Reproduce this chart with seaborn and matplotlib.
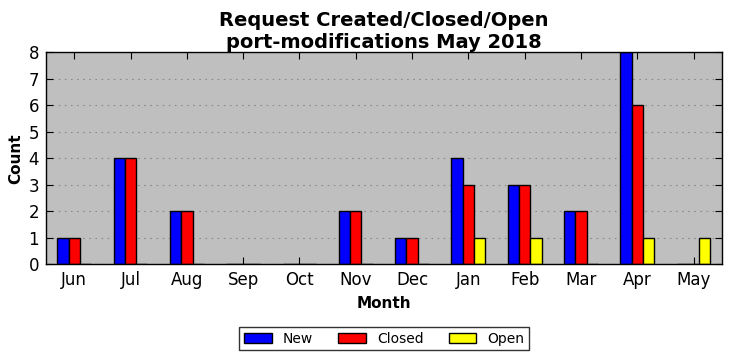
import matplotlib
matplotlib.use("Agg")
import matplotlib.pyplot as plt
import pandas as pd
import seaborn as sns

months = ["Jun", "Jul", "Aug", "Sep", "Oct", "Nov", "Dec", "Jan", "Feb", "Mar", "Apr", "May"]
new_counts = [1, 4, 2, 0, 0, 2, 1, 4, 3, 2, 8, 0]
closed_counts = [1, 4, 2, 0, 0, 2, 1, 3, 3, 2, 6, 0]
open_counts = [0, 0, 0, 0, 0, 0, 0, 1, 1, 0, 1, 1]

df = pd.DataFrame({"Month": months, "New": new_counts, "Closed": closed_counts, "Open": open_counts})
long_df = df.melt(id_vars="Month", var_name="Status", value_name="Count")

sns.set_style("ticks")
plt.rcParams["font.family"] = ["DejaVu Sans"]
plt.rcParams["text.color"] = "black"
plt.rcParams["axes.labelcolor"] = "black"
plt.rcParams["xtick.color"] = "black"
plt.rcParams["ytick.color"] = "black"

fig, ax = plt.subplots(figsize=(7.32, 3.61), dpi=100)
sns.barplot(
    data=long_df,
    x="Month",
    y="Count",
    hue="Status",
    order=months,
    hue_order=["New", "Closed", "Open"],
    palette={"New": "#0000ff", "Closed": "#ff0000", "Open": "#ffff00"},
    width=0.6,
    gap=0,
    edgecolor="black",
    linewidth=1,
    saturation=1,
    ax=ax,
)

ax.set_facecolor("#bfbfbf")
ax.set_xlim(-0.5, 11.5)
ax.set_ylim(0, 8)
ax.set_yticks(range(0, 9))
ax.yaxis.grid(True, linestyle=(0, (1.5, 4)), color="#8a8a8a", linewidth=0.8)
ax.set_axisbelow(True)
for spine in ax.spines.values():
    spine.set_visible(True)
    spine.set_linewidth(1)
    spine.set_color("black")
ax.tick_params(direction="in", top=True, right=True, labelsize=12, length=5, pad=5)
ax.set_xlabel("Month", fontsize=11, fontweight="bold", labelpad=5)
ax.set_ylabel("Count", fontsize=11, fontweight="bold")
ax.set_title("Request Created/Closed/Open\nport-modifications May 2018", fontsize=14,
             fontweight="bold", pad=3)

ax.get_legend().remove()
handles, labels = ax.get_legend_handles_labels()
fig.legend(
    handles, labels, loc="lower center", ncol=3, frameon=True, fancybox=False,
    edgecolor="black", fontsize=10, bbox_to_anchor=(0.525, 0.01), handlelength=2.0,
    columnspacing=1.8, borderpad=0.35,
)
leg = fig.legends[0]
leg.get_frame().set_linewidth(1)

fig.subplots_adjust(left=0.063, right=0.986, top=0.855, bottom=0.268)
fig.savefig("out.png", dpi=100)
